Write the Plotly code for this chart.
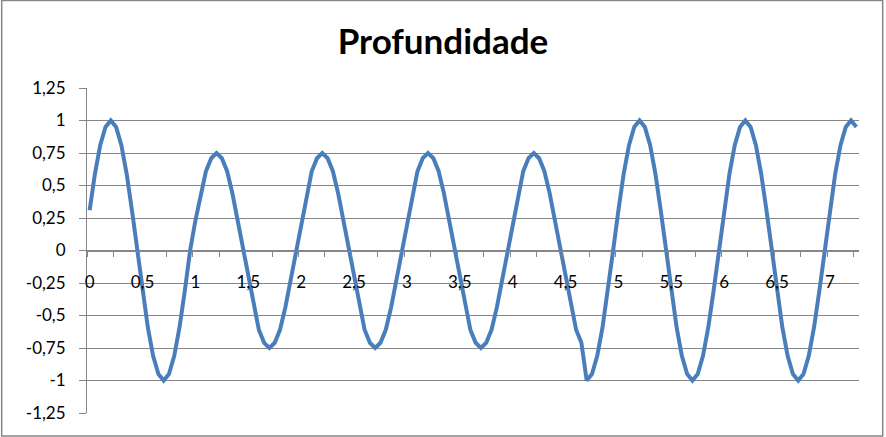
import plotly.graph_objects as go

# x categories (step 0,05)
x_vals = [
    0.00, 0.05, 0.10, 0.15, 0.20, 0.25, 0.30, 0.35, 0.40, 0.45,
    0.50, 0.55, 0.60, 0.65, 0.70, 0.75, 0.80, 0.85, 0.90, 0.95,
    1.00, 1.05, 1.10, 1.15, 1.20, 1.25, 1.30, 1.35, 1.40, 1.45,
    1.50, 1.55, 1.60, 1.65, 1.70, 1.75, 1.80, 1.85, 1.90, 1.95,
    2.00, 2.05, 2.10, 2.15, 2.20, 2.25, 2.30, 2.35, 2.40, 2.45,
    2.50, 2.55, 2.60, 2.65, 2.70, 2.75, 2.80, 2.85, 2.90, 2.95,
    3.00, 3.05, 3.10, 3.15, 3.20, 3.25, 3.30, 3.35, 3.40, 3.45,
    3.50, 3.55, 3.60, 3.65, 3.70, 3.75, 3.80, 3.85, 3.90, 3.95,
    4.00, 4.05, 4.10, 4.15, 4.20, 4.25, 4.30, 4.35, 4.40, 4.45,
    4.50, 4.55, 4.60, 4.65, 4.70, 4.75, 4.80, 4.85, 4.90, 4.95,
    5.00, 5.05, 5.10, 5.15, 5.20, 5.25, 5.30, 5.35, 5.40, 5.45,
    5.50, 5.55, 5.60, 5.65, 5.70, 5.75, 5.80, 5.85, 5.90, 5.95,
    6.00, 6.05, 6.10, 6.15, 6.20, 6.25, 6.30, 6.35, 6.40, 6.45,
    6.50, 6.55, 6.60, 6.65, 6.70, 6.75, 6.80, 6.85, 6.90, 6.95,
    7.00, 7.05, 7.10, 7.15, 7.20, 7.25,
]

# profundidade values
depth = [
    0.31, 0.59, 0.81, 0.95, 1, 0.95, 0.81, 0.59, 0.31, 0,
    -0.31, -0.59, -0.81, -0.95, -1, -0.95, -0.81, -0.59, -0.31, 0,
    0.23, 0.44, 0.61, 0.71, 0.75, 0.71, 0.61, 0.44, 0.23, 0,
    -0.23, -0.44, -0.61, -0.71, -0.75, -0.71, -0.61, -0.44, -0.23, 0,
    0.23, 0.44, 0.61, 0.71, 0.75, 0.71, 0.61, 0.44, 0.23, 0,
    -0.23, -0.44, -0.61, -0.71, -0.75, -0.71, -0.61, -0.44, -0.23, 0,
    0.23, 0.44, 0.61, 0.71, 0.75, 0.71, 0.61, 0.44, 0.23, 0,
    -0.23, -0.44, -0.61, -0.71, -0.75, -0.71, -0.61, -0.44, -0.23, 0,
    0.23, 0.44, 0.61, 0.71, 0.75, 0.71, 0.61, 0.44, 0.23, 0,
    -0.23, -0.44, -0.61, -0.71, -1, -0.95, -0.81, -0.59, -0.31, 0,
    0.31, 0.59, 0.81, 0.95, 1, 0.95, 0.81, 0.59, 0.31, 0,
    -0.31, -0.59, -0.81, -0.95, -1, -0.95, -0.81, -0.59, -0.31, 0,
    0.31, 0.59, 0.81, 0.95, 1, 0.95, 0.81, 0.59, 0.31, 0,
    -0.31, -0.59, -0.81, -0.95, -1, -0.95, -0.81, -0.59, -0.31, 0,
    0.31, 0.59, 0.81, 0.95, 1, 0.95,
]

# axis labels
x_tick_vals = [0, 0.5, 1, 1.5, 2, 2.5, 3, 3.5, 4, 4.5, 5, 5.5, 6, 6.5, 7]
x_tick_text = ["0", "0,5", "1", "1,5", "2", "2,5", "3", "3,5", "4", "4,5",
               "5", "5,5", "6", "6,5", "7"]
y_tick_vals = [1.25, 1, 0.75, 0.5, 0.25, 0, -0.25, -0.5, -0.75, -1, -1.25]
y_tick_text = ["1,25", "1", "0,75", "0,5", "0,25", "0", "-0,25", "-0,5",
               "-0,75", "-1", "-1,25"]

grid = "#868686"
font = "Lato"

fig = go.Figure()

fig.add_trace(
    go.Scatter(
        x=x_vals, y=depth,
        mode="lines",
        line=dict(color="#4A7EBB", width=4),
        showlegend=False,
    )
)

fig.update_layout(
    width=886,
    height=437,
    margin=dict(l=87, r=27, t=88, b=24, autoexpand=False),
    paper_bgcolor="white",
    plot_bgcolor="white",
    font=dict(family=font, size=17, color="black"),
    title=dict(
        text="<b>Profundidade</b>",
        x=0.5, xanchor="center",
        y=1 - 42 / 437, yanchor="middle",
        font=dict(family=font, size=35, color="black"),
        automargin=False,
    ),
    xaxis=dict(
        range=[-0.025, 7.275],
        automargin=False,
        showgrid=False,
        zeroline=False,
        showline=True, linecolor=grid, linewidth=1,
        anchor="free", position=0.5,
        tickvals=x_tick_vals, ticktext=x_tick_text,
        ticks="", ticklabelstandoff=16,
        minor=dict(ticks="outside", tick0=-0.025, dtick=0.25,
                   ticklen=5, tickcolor=grid, showgrid=False),
    ),
    yaxis=dict(
        range=[-1.25, 1.25],
        automargin=False,
        showgrid=True, gridcolor=grid, gridwidth=1,
        zeroline=False,
        showline=True, linecolor=grid, linewidth=1,
        tickvals=y_tick_vals, ticktext=y_tick_text,
        ticks="outside", ticklen=7, tickcolor=grid,
        ticklabelstandoff=10,
    ),
    shapes=[
        dict(type="rect", xref="paper", yref="paper",
             x0=-0.1105, x1=1.0307, y0=-0.0708, y1=1.2689,
             line=dict(color=grid, width=1.5), layer="below"),
    ],
)

# drop the default page margin so the chart sits at the window's corner
fig.write_html("out.html",
               config={"displayModeBar": False},
               post_script="document.body.style.margin='0';")
